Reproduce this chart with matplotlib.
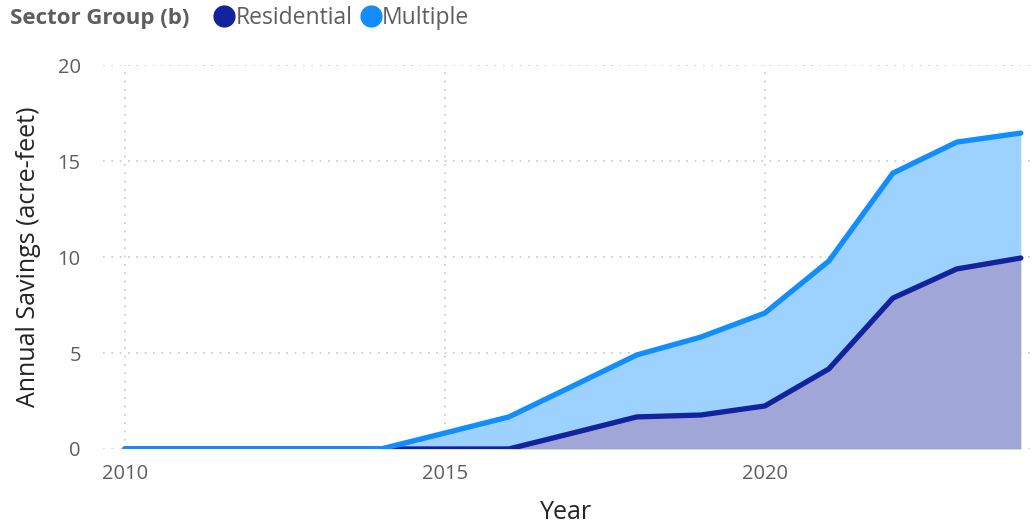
import numpy as np
import matplotlib.pyplot as plt
from matplotlib.lines import Line2D

years = [2010, 2011, 2012, 2013, 2014, 2015, 2016, 2017, 2018, 2019, 2020, 2021, 2022, 2023, 2024]
residential = [0, 0, 0, 0, 0, 0, 0, 0.83, 1.67, 1.77, 2.24, 4.17, 7.86, 9.38, 9.95]
multiple = [0, 0, 0, 0, 0, 0.83, 1.67, 2.45, 3.23, 4.06, 4.84, 5.62, 6.51, 6.61, 6.51]

res_line = "#12239E"
mul_line = "#118DFF"
res_fill = "#A0A6D6"
mul_fill = "#9DD1FF"
gray = "#605E5C"

plt.rcParams['font.family'] = ['Open Sans', 'DejaVu Sans']

fig = plt.figure(figsize=(10.36, 5.25), dpi=100)
ax = fig.add_axes([0.0994, 0.1448, 0.8946, 0.7312])

x = np.array(years)
r = np.array(residential)
total = r + np.array(multiple)

ax.fill_between(x, 0, r, color=res_fill, lw=0, zorder=2)
ax.fill_between(x, r, total, color=mul_fill, lw=0, zorder=2)
ax.plot(x, r, color=res_line, lw=3.8, solid_capstyle='round', solid_joinstyle='round', zorder=3)
ax.plot(x, total, color=mul_line, lw=3.8, solid_capstyle='round', solid_joinstyle='round', zorder=4)

ax.set_xlim(2009.66, 2024.14)
ax.set_ylim(0, 20)
ax.set_xticks([2010, 2015, 2020])
ax.set_yticks([0, 5, 10, 15, 20])
ax.grid(True, color="#C8C6C4", linestyle=(0, (1, 4)), linewidth=1.2, zorder=1)
for s in ax.spines.values():
    s.set_visible(False)
ax.tick_params(length=0, labelsize=14.5, labelcolor=gray, pad=11)
ax.tick_params(axis='y', pad=16)

ax.set_xlabel("Year", fontsize=18, color="#252423", labelpad=11)
ax.set_ylabel("Annual Savings (acre-feet)", fontsize=18, color="#252423", labelpad=12)

fig.text(0.0097, 0.965, "Sector Group (b)", fontsize=16, fontweight='bold', color=gray, va='center')
handles = [Line2D([], [], marker='o', ls='', color=res_line, markersize=15),
           Line2D([], [], marker='o', ls='', color=mul_line, markersize=15)]
fig.legend(handles, ["Residential", "Multiple"], loc='center left', bbox_to_anchor=(0.205, 0.965),
           ncol=2, frameon=False, fontsize=16.5, labelcolor=gray, handletextpad=0.0,
           columnspacing=0.3, borderpad=0, borderaxespad=0, handlelength=1.0)

fig.savefig("out.png", dpi=100)
